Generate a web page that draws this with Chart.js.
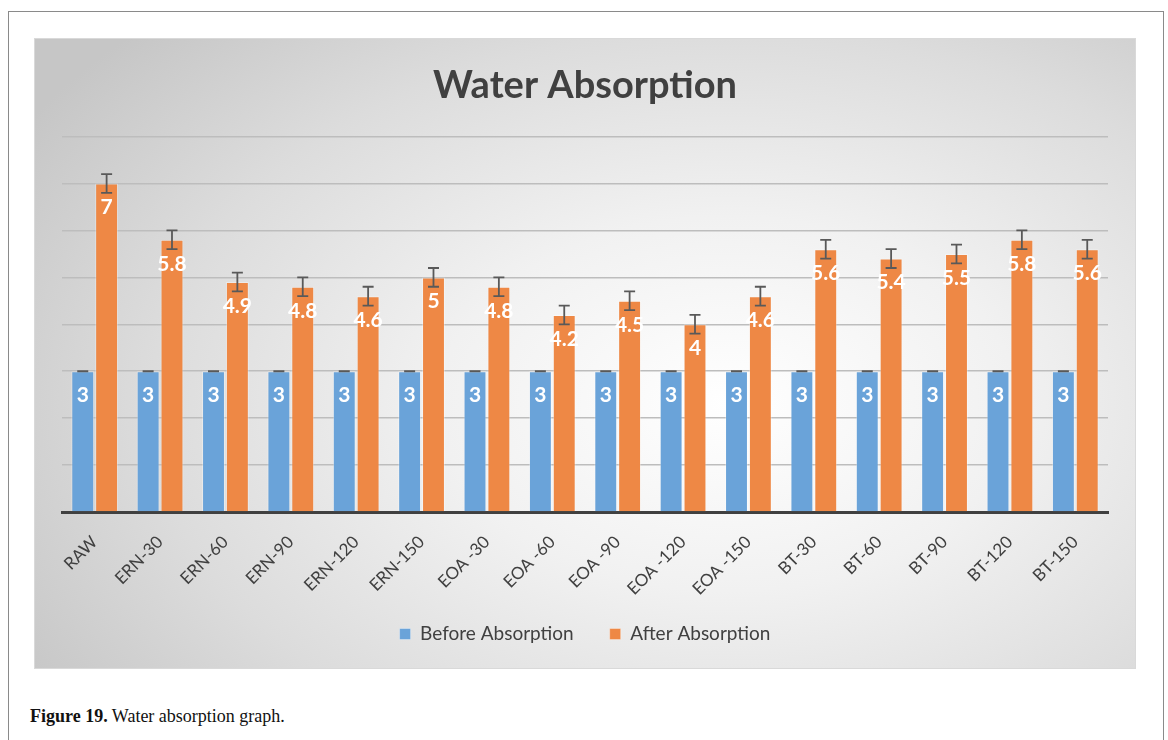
<!DOCTYPE html>
<html>
<head>
<meta charset="utf-8">
<script src="https://cdn.jsdelivr.net/npm/chart.js@4.4.1/dist/chart.umd.min.js"></script>
<style>
  html, body { margin:0; padding:0; background:#fff; width:1168px; height:740px; overflow:hidden; }
  #frame { position:absolute; left:8px; top:11px; width:1154px; height:780px; border:1.5px solid #8a8a8a; }
  #panel { position:absolute; left:35px; top:39px; width:1100px; height:629px;
    background: radial-gradient(ellipse 75% 85% at 63% 58%, #ffffff 0%, #f1f1f1 35%, #dcdcdc 70%, #c6c6c6 100%);
    box-shadow: 0 0 0 1px #d9d9d9; }
  #caption { position:absolute; left:30px; top:706px; font-family:"Liberation Serif","DejaVu Serif",serif; font-size:18px; color:#111; }
  #caption b { font-weight:bold; }
</style>
</head>
<body>
<div id="frame"></div>
<div id="panel"><canvas id="c" width="1100" height="629"></canvas></div>
<div id="caption"><b>Figure 19.</b> Water absorption graph.</div>
<script>
const categories = ["RAW","ERN-30","ERN-60","ERN-90","ERN-120","ERN-150","EOA -30","EOA -60","EOA -90","EOA -120","EOA -150","BT-30","BT-60","BT-90","BT-120","BT-150"];
const beforeAbsorption = [3,3,3,3,3,3,3,3,3,3,3,3,3,3,3,3];
const afterAbsorption = [7,5.8,4.9,4.8,4.6,5,4.8,4.2,4.5,4,4.6,5.6,5.4,5.5,5.8,5.6];
const beforeError = [0,0,0,0,0,0,0,0,0,0,0,0,0,0,0,0];
const afterError = [0.2,0.2,0.2,0.2,0.2,0.2,0.2,0.2,0.2,0.2,0.2,0.2,0.2,0.2,0.2,0.2];
const yTicks = [0,1,2,3,4,5,6,7,8];

const errors = [beforeError, afterError];

const overlayPlugin = {
  id: 'overlay',
  afterDatasetsDraw(chart) {
    const ctx = chart.ctx;
    const y = chart.scales.y;
    chart.data.datasets.forEach((ds, di) => {
      const meta = chart.getDatasetMeta(di);
      meta.data.forEach((bar, i) => {
        const v = ds.data[i];
        const e = errors[di][i];
        const cx = bar.x;
        const yTop = y.getPixelForValue(v + e);
        const yBot = y.getPixelForValue(v - e);
        ctx.save();
        ctx.strokeStyle = '#595959';
        ctx.lineWidth = 1.8;
        ctx.beginPath();
        ctx.moveTo(cx, yTop); ctx.lineTo(cx, yBot);
        ctx.moveTo(cx - 5.5, yTop); ctx.lineTo(cx + 5.5, yTop);
        ctx.moveTo(cx - 5.5, yBot); ctx.lineTo(cx + 5.5, yBot);
        ctx.stroke();
        ctx.fillStyle = '#ffffff';
        ctx.font = 'bold 21px Lato, "Open Sans", sans-serif';
        ctx.textAlign = 'center';
        ctx.textBaseline = 'middle';
        ctx.fillText(String(v), cx, y.getPixelForValue(v) + 24);
        ctx.restore();
      });
    });
  }
};

new Chart(document.getElementById('c'), {
  type: 'bar',
  data: {
    labels: categories,
    datasets: [
      { label: 'Before Absorption', data: beforeAbsorption, backgroundColor: '#6aa3d9', borderColor: 'rgba(255,255,255,0.35)', borderWidth: 1, categoryPercentage: 0.73, barPercentage: 0.96 },
      { label: 'After Absorption', data: afterAbsorption, backgroundColor: '#ee8845', borderColor: 'rgba(255,255,255,0.35)', borderWidth: 1, categoryPercentage: 0.73, barPercentage: 0.96 }
    ]
  },
  options: {
    responsive: false,
    animation: false,
    devicePixelRatio: 1,
    layout: { padding: { left: 27, right: 27, top: 0, bottom: 14.5 } },
    plugins: {
      title: { display: true, text: 'Water Absorption', color: '#404040',
        font: { family: 'Lato, "Open Sans", sans-serif', size: 38, weight: 'bold' },
        padding: { top: 24, bottom: 28 } },
      legend: { position: 'bottom',
        labels: { color: '#404040', boxWidth: 11, boxHeight: 11, padding: 36,
          font: { family: 'Lato, "Open Sans", sans-serif', size: 19 } } },
      tooltip: { enabled: false }
    },
    scales: {
      x: {
        grid: { display: false, drawTicks: false },
        border: { display: true, color: '#404040', width: 3 },
        ticks: { color: '#404040', minRotation: 45, maxRotation: 45, padding: 20,
          font: { family: 'Lato, "Open Sans", sans-serif', size: 17 } },
        afterFit(scale) {
          scale.height = 76.5;
          scale._computeLabelArea = function () { return undefined; };
        }
      },
      y: {
        min: 0, max: 8,
        afterBuildTicks(scale) { scale.ticks = yTicks.map(v => ({ value: v })); },
        grid: { color: '#bdbdbd', lineWidth: 1.5, drawTicks: false },
        border: { display: false },
        ticks: { display: false }
      }
    }
  },
  plugins: [overlayPlugin]
});
</script>
</body>
</html>
